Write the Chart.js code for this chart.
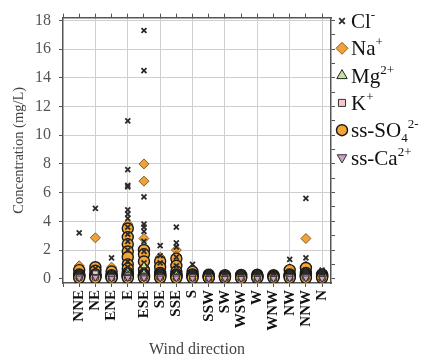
<!DOCTYPE html>
<html>
<head>
<meta charset="utf-8">
<script src="https://cdn.jsdelivr.net/npm/chart.js@4/dist/chart.umd.min.js"></script>
<style>
  html, body { margin: 0; background: #fff; }
  #wrap { width: 437px; height: 360px; }
</style>
</head>
<body>
<div id="wrap"><canvas id="c"></canvas></div>
<script>
// Wind sectors, in the order they sit on the x axis (1..16)
const directions = ['NNE', 'NE', 'ENE', 'E', 'ESE', 'SE', 'SSE', 'S',
                    'SSW', 'SW', 'WSW', 'W', 'WNW', 'NW', 'NNW', 'N'];

// Concentrations (mg/L), one list of samples per sector
const clValues = [
  [3.2, 0.5, 0.35, 0.28, 0.2, 0.12, 0.05],
  [4.9, 0.7, 0.4, 0.32, 0.25, 0.18, 0.1],
  [1.45, 0.4, 0.3, 0.22, 0.15, 0.08],
  [11.0, 7.6, 6.5, 6.4, 4.8, 4.5, 4.2, 3.6, 3.1, 2.6, 2.0, 1.2, 0.8, 0.5, 0.4, 0.3, 0.22, 0.15, 0.08],
  [17.3, 14.5, 5.7, 3.8, 3.6, 3.3, 2.6, 1.9, 1.1, 0.6, 0.42, 0.32, 0.25, 0.18, 0.1],
  [2.3, 1.6, 1.1, 0.6, 0.4, 0.32, 0.25, 0.18, 0.1],
  [3.6, 2.5, 2.2, 1.5, 0.9, 0.5, 0.38, 0.3, 0.22, 0.15, 0.08],
  [1.0, 0.5, 0.35, 0.28, 0.2, 0.12, 0.05],
  [0.5, 0.35, 0.28, 0.2, 0.12, 0.05],
  [0.35, 0.28, 0.2, 0.12, 0.05],
  [0.45, 0.32, 0.25, 0.18, 0.1, 0.05],
  [0.45, 0.32, 0.25, 0.18, 0.1, 0.05],
  [0.3, 0.25, 0.18, 0.1, 0.05],
  [1.35, 0.5, 0.38, 0.3, 0.22, 0.15, 0.08],
  [5.6, 1.45, 0.6, 0.42, 0.32, 0.25, 0.18, 0.1],
  [0.6, 0.4, 0.32, 0.25, 0.18, 0.1, 0.05],
];
const naValues = [
  [0.9, 0.3, 0.15], [2.85, 0.8, 0.3], [0.8, 0.3, 0.15],
  [3.8, 3.4, 3.0, 2.7, 2.3, 1.6, 1.1, 0.7, 0.4],
  [8.0, 6.8, 2.8, 1.3, 0.8, 0.4],
  [1.5, 1.0, 0.5, 0.3], [2.0, 1.6, 1.1, 0.6, 0.3], [0.6, 0.3],
  [0.15], [0.12], [0.15], [0.15], [0.12], [0.7, 0.3], [2.8, 0.9, 0.4], [0.2],
];
const mgValues = [
  [0.15], [0.2], [0.1], [0.5, 0.3, 0.15], [0.9, 0.4, 0.15], [0.2, 0.1], [0.3, 0.1], [0.1],
  [0.05], [0.05], [0.05], [0.05], [0.05], [0.1], [0.15], [0.05],
];
const kValues = [
  [0.1], [0.35, 0.1], [0.08], [0.2, 0.08], [0.15, 0.08], [0.1], [0.1], [0.08],
  [0.05], [0.05], [0.05], [0.05], [0.05], [0.08], [0.1], [0.05],
];
const so4Values = [
  [0.6, 0.3, 0.24, 0.18, 0.12, 0.06],
  [0.8, 0.55, 0.3, 0.24, 0.18, 0.12, 0.06],
  [0.5, 0.25, 0.2, 0.15, 0.1, 0.05],
  [3.5, 2.9, 2.4, 1.9, 1.5, 1.0, 0.7, 0.4, 0.3, 0.24, 0.18, 0.12, 0.06],
  [2.0, 1.7, 1.2, 0.6, 0.3, 0.24, 0.18, 0.12, 0.06],
  [1.2, 0.8, 0.4, 0.3, 0.24, 0.18, 0.12, 0.06],
  [1.4, 0.9, 0.5, 0.3, 0.24, 0.18, 0.12, 0.06],
  [0.5, 0.3, 0.24, 0.18, 0.12, 0.06],
  [0.28, 0.22, 0.16, 0.1, 0.05],
  [0.24, 0.18, 0.12, 0.06],
  [0.26, 0.2, 0.14, 0.08, 0.04],
  [0.28, 0.22, 0.16, 0.1, 0.05],
  [0.24, 0.18, 0.12, 0.06],
  [0.6, 0.3, 0.24, 0.18, 0.12, 0.06],
  [0.75, 0.4, 0.3, 0.24, 0.18, 0.12, 0.06],
  [0.3, 0.24, 0.18, 0.12, 0.06],
];
const caValues = [
  [0.05], [0.1], [0.03], [0.08], [0.06], [0.05], [0.05], [0.03],
  [0.02], [0.02], [0.02], [0.02], [0.02], [0.03], [0.05], [0.02],
];

const yTicks = [0, 2, 4, 6, 8, 10, 12, 14, 16, 18];

const toPoints = (perDir) =>
  perDir.flatMap((vals, i) => vals.map((v) => ({ x: i + 1, y: v })));

const SERIF = '"Liberation Serif", "Times New Roman", serif';
const GRID = '#cfcfcf';
const AXIS = '#555';

const series = [
  { label: 'Cl', sup: '-', sub: '', data: clValues, style: 'crossRot', r: 3.5, fill: '#2a2a2a', stroke: '#2a2a2a', bw: 1.8, order: 4, legendR: 4 },
  { label: 'Na', sup: '+', sub: '', data: naValues, style: 'rectRot', r: 5, fill: '#f0a23a', stroke: '#8a5a20', bw: 1, order: 7, legendR: 6 },
  { label: 'Mg', sup: '2+', sub: '', data: mgValues, style: 'triangle', r: 4, fill: '#c5e3a0', stroke: '#222', bw: 1, order: 3, legendR: 6 },
  { label: 'K', sup: '+', sub: '', data: kValues, style: 'rect', r: 4, fill: '#f6c6cc', stroke: '#333', bw: 1, order: 2, legendR: 5 },
  { label: 'ss-SO', sup: '2-', sub: '4', data: so4Values, style: 'circle', r: 5.5, fill: '#f5a533', stroke: '#1a1a1a', bw: 1.4, order: 6, legendR: 5.5 },
  { label: 'ss-Ca', sup: '2+', sub: '', data: caValues, style: 'triangle', rot: 180, r: 4, fill: '#c9a2c4', stroke: '#333', bw: 1, order: 1, legendR: 5.5 },
];

// legend drawn on the canvas so the ion charges can be set as super/subscripts
const ionLegend = {
  id: 'ionLegend',
  afterDraw(chart) {
    const ctx = chart.ctx;
    const x0 = 342, y0 = 21, step = 27.3;
    series.forEach((s, i) => {
      const y = y0 + i * step;
      ctx.save();
      ctx.fillStyle = s.fill;
      ctx.strokeStyle = s.stroke;
      ctx.lineWidth = s.bw;
      Chart.helpers.drawPoint(ctx, {
        pointStyle: s.style, radius: s.legendR,
        rotation: s.rot || 0, borderWidth: s.bw,
      }, x0, y);
      ctx.fillStyle = '#111';
      ctx.textBaseline = 'alphabetic';
      const base = y + 7;
      let x = x0 + 9;
      ctx.font = '21px ' + SERIF;
      ctx.fillText(s.label, x, base);
      x += ctx.measureText(s.label).width;
      ctx.font = '13px ' + SERIF;
      if (s.sub) {
        ctx.fillText(s.sub, x, base + 5);
        x += ctx.measureText(s.sub).width;
      }
      ctx.fillText(s.sup, x, base - 9);
      ctx.restore();
    });
  },
};

const evenGrid = (ctx) =>
  ctx.tick && ctx.tick.value > 0 && ctx.tick.value % 2 === 0 ? GRID : 'rgba(0,0,0,0)';

new Chart(document.getElementById('c'), {
  type: 'scatter',
  data: {
    datasets: series.map((s) => ({
      label: s.label,
      data: toPoints(s.data),
      pointStyle: s.style,
      rotation: s.rot || 0,
      pointRadius: s.r,
      pointHoverRadius: s.r,
      backgroundColor: s.fill,
      borderColor: s.stroke,
      borderWidth: s.bw,
      order: s.order,
    })),
  },
  options: {
    responsive: true,
    maintainAspectRatio: false,
    animation: false,
    layout: { padding: { left: 0, right: 102, top: 10, bottom: 0 } },
    plugins: { legend: { display: false }, tooltip: { enabled: false } },
    scales: {
      x: {
        type: 'linear', position: 'bottom', min: 0, max: 16.55,
        afterFit: (s) => { s.height = 77; },
        ticks: {
          stepSize: 1, includeBounds: false, autoSkip: false,
          maxRotation: 90, minRotation: 90, padding: 3,
          color: '#111', font: { family: SERIF, size: 15, weight: 'bold' },
          callback: (v) => directions[v - 1] || '',
        },
        grid: { color: evenGrid, tickColor: AXIS, tickLength: 4 },
        border: { color: AXIS, width: 1.5 },
        title: {
          display: true, text: 'Wind direction', color: '#444',
          font: { family: SERIF, size: 16 }, padding: { top: 0, bottom: 1 },
        },
      },
      x2: {
        type: 'linear', position: 'top', min: 0, max: 16.55,
        afterFit: (s) => { s.height = 4; },
        ticks: { display: false, stepSize: 1, includeBounds: false },
        grid: { drawOnChartArea: false, tickColor: AXIS, tickLength: 4 },
        border: { color: AXIS, width: 1.5 },
      },
      y: {
        min: -0.3, max: 18.2,
        afterFit: (s) => { s.width = 63; },
        ticks: {
          stepSize: 1, includeBounds: false, padding: 8,
          color: '#555', font: { family: SERIF, size: 16 },
          callback: (v) => (yTicks.includes(v) ? v : ''),
        },
        grid: { color: evenGrid, tickColor: AXIS, tickLength: 4 },
        border: { color: AXIS, width: 1.5 },
        title: {
          display: true, text: 'Concentration (mg/L)', color: '#444',
          font: { family: SERIF, size: 14.5 }, padding: { top: 10, bottom: 4 },
        },
      },
      y2: {
        position: 'right', min: -0.3, max: 18.2,
        afterFit: (s) => { s.width = 4; },
        ticks: { display: false, stepSize: 1, includeBounds: false },
        grid: { drawOnChartArea: false, tickColor: AXIS, tickLength: 4 },
        border: { color: AXIS, width: 1.5 },
      },
    },
  },
  plugins: [ionLegend],
});
</script>
</body>
</html>
